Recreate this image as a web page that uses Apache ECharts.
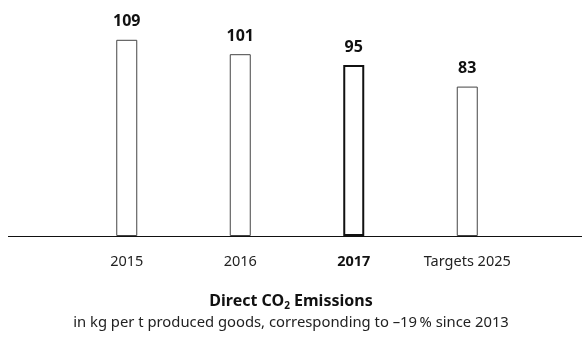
<!DOCTYPE html>
<html>
<head>
<meta charset="utf-8">
<script src="https://cdn.jsdelivr.net/npm/echarts@6/dist/echarts.min.js"></script>
<style>html,body{margin:0;padding:0;background:#fff}#c{width:582px;height:341px}</style>
</head>
<body>
<div id="c"></div>
<script>
const categories = ['2015', '2016', '2017', 'Targets 2025'];
const values = [109, 101, 95, 83];
const highlightIndex = 2;

const FONT = '"Noto Sans", sans-serif';
const chart = echarts.init(document.getElementById('c'), null, {renderer: 'canvas'});

const data = values.map((v, i) => ({
  value: v,
  itemStyle: {
    color: '#fff',
    borderColor: i === highlightIndex ? '#111' : '#444',
    borderWidth: i === highlightIndex ? 2 : 1
  }
}));

chart.setOption({
  animation: false,
  backgroundColor: '#fff',
  title: [{
    text: '{a|Direct CO}{s|2}{a| Emissions}',
    left: 'center',
    top: 286,
    textStyle: {
      rich: {
        a: {fontFamily: FONT, fontWeight: 'bold', fontSize: 16, color: '#111'},
        s: {fontFamily: FONT, fontWeight: 'bold', fontSize: 10, color: '#111', padding: [10, 0, 0, 0]}
      }
    }
  }, {
    text: 'in kg per t produced goods, corresponding to \u201319\u2009% since 2013',
    left: 'center',
    top: 310,
    textStyle: {fontFamily: FONT, fontWeight: 'normal', fontSize: 14.8, color: '#222'}
  }],
  grid: {left: 70, right: 58, top: 20, bottom: 105},
  xAxis: {
    type: 'category',
    data: categories,
    axisLine: {show: false},
    axisTick: {show: false},
    axisLabel: {
      margin: 18,
      fontFamily: FONT,
      fontSize: 14.5,
      color: '#222',
      formatter: (v, i) => i === highlightIndex ? '{b|' + v + '}' : v,
      rich: {b: {fontFamily: FONT, fontSize: 14.5, fontWeight: 'bold', color: '#111'}}
    }
  },
  yAxis: {
    type: 'value',
    min: 0,
    max: 120,
    show: false,
    splitLine: {show: false}
  },
  series: [{
    type: 'bar',
    data: data,
    barWidth: 21,
    label: {
      show: true,
      position: 'top',
      distance: 10,
      fontFamily: FONT,
      fontWeight: 'bold',
      fontSize: 16,
      color: '#111'
    }
  }],
  graphic: [{
    type: 'line',
    shape: {x1: 8, y1: 236.5, x2: 582, y2: 236.5},
    style: {stroke: '#111', lineWidth: 1.2},
    z: 10
  }]
});
</script>
</body>
</html>
